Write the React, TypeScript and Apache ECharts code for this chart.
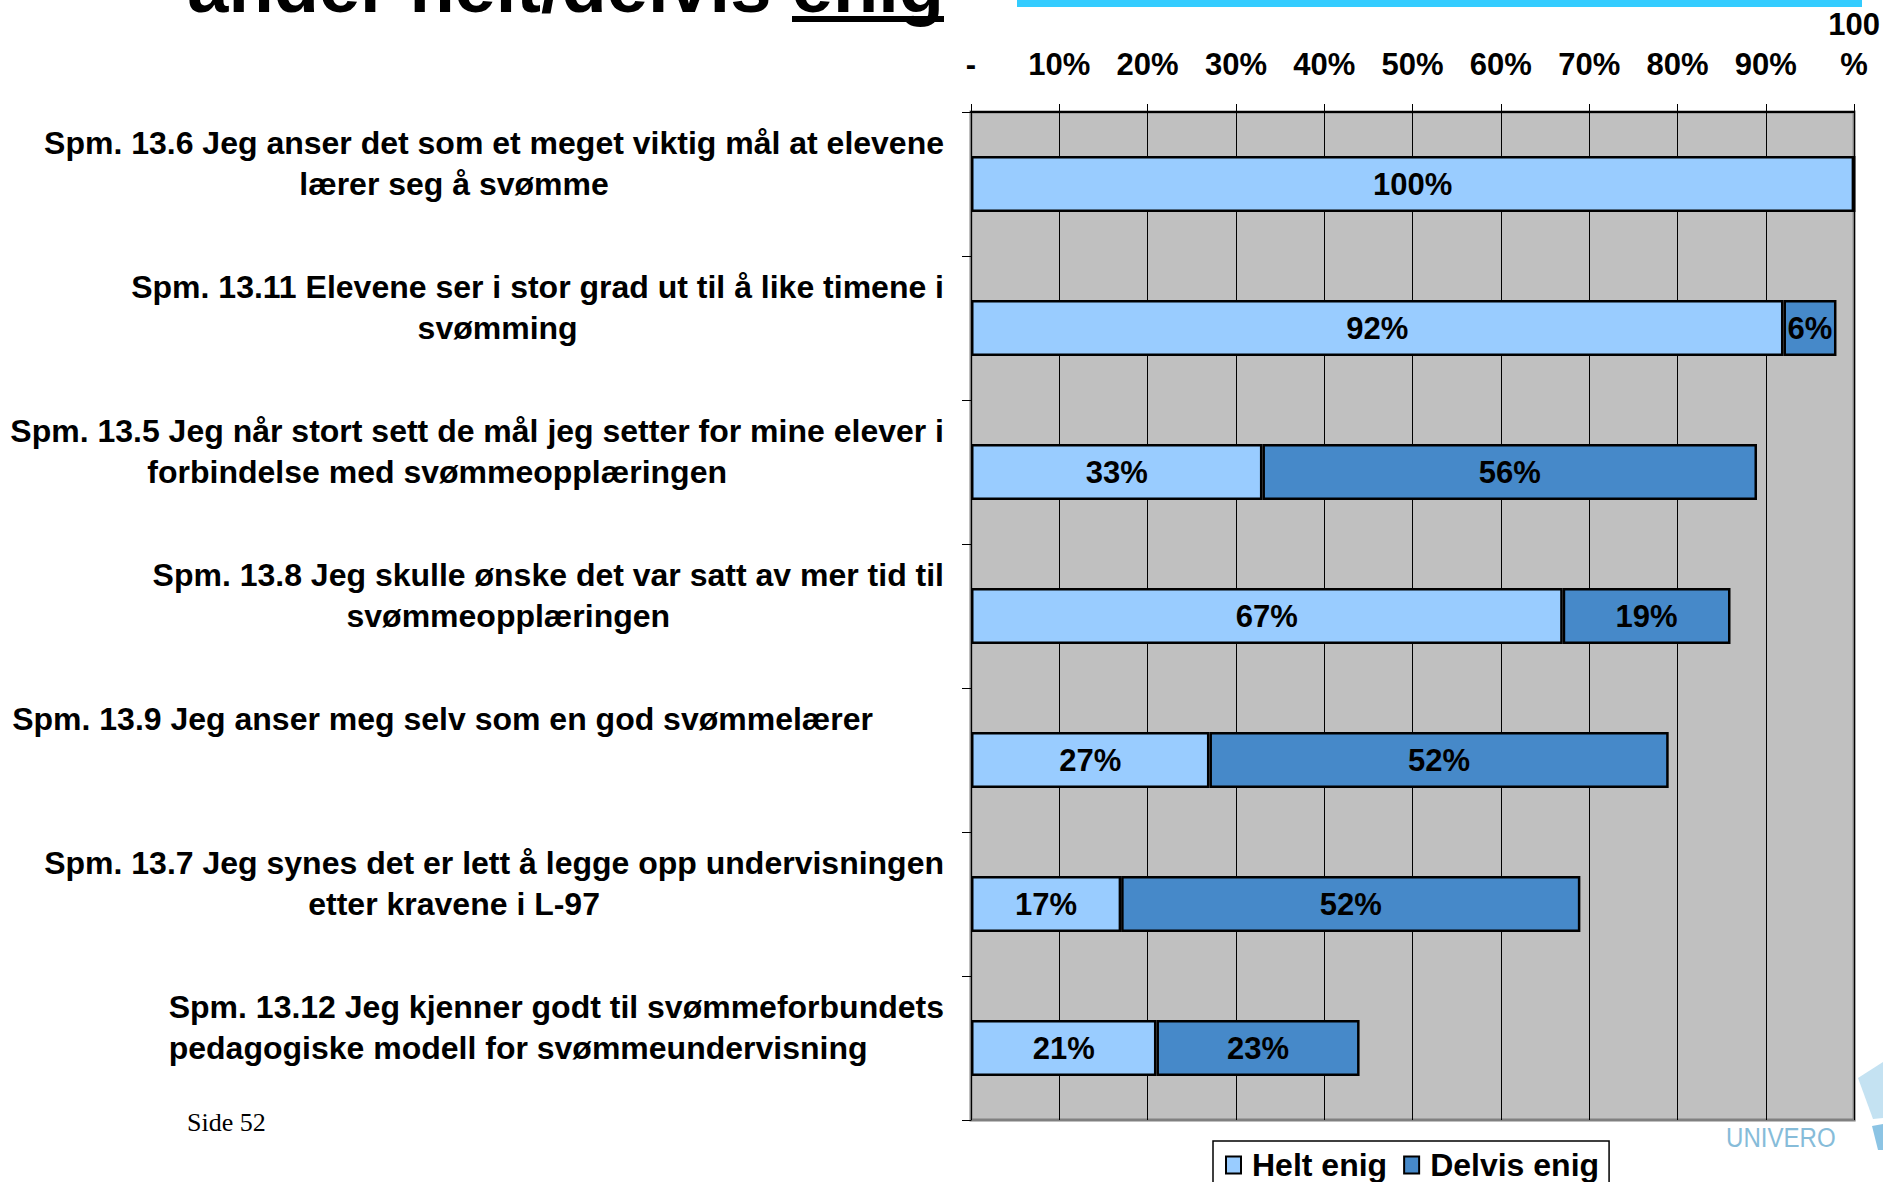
import React, { useEffect, useRef } from "react";
import * as echarts from "echarts";

// ---------- data ----------
const categories = [
  "Spm. 13.6 Jeg anser det som et meget viktig mål at elevene\nlærer seg å svømme",
  "Spm. 13.11 Elevene ser i stor grad ut til å like timene i\nsvømming",
  "Spm. 13.5 Jeg når stort sett de mål jeg setter for mine elever i\nforbindelse med svømmeopplæringen",
  "Spm. 13.8 Jeg skulle ønske det var satt av mer tid til\nsvømmeopplæringen",
  "Spm. 13.9 Jeg anser meg selv som en god svømmelærer",
  "Spm. 13.7 Jeg synes det er lett å legge opp undervisningen\netter kravene i L-97",
  "Spm. 13.12 Jeg kjenner godt til svømmeforbundets\npedagogiske modell for svømmeundervisning",
];
const heltEnig = [100, 92, 33, 67, 27, 17, 21];
const delvisEnig = [0, 6, 56, 19, 52, 52, 23];
const seriesNames = ["Helt enig", "Delvis enig"];
const xTickLabels = ["-", "10%", "20%", "30%", "40%", "50%", "60%", "70%", "80%", "90%", "100\n%"];
const titleText = "ander helt/delvis enig";
const pageLabel = "Side 52";
const logoText = "UNIVERO";

// ---------- styling ----------
const FONT = "'Liberation Sans', Arial, Helvetica, sans-serif";
const labelLayout = ["std", "std", "std", "std", "single", "std", "hang"];

export default function App() {
  const ref = useRef<HTMLDivElement>(null);
  useEffect(() => {
    if (!ref.current) return;
    const chart = echarts.init(ref.current, undefined, { renderer: "svg" });
    const base = {
      fontSize: 32,
      fontWeight: "bold" as const,
      fontFamily: FONT,
      color: "#000",
      lineHeight: 41,
    };
    const barLabel = {
      show: true,
      position: "inside",
      fontSize: 31,
      fontWeight: "bold",
      fontFamily: FONT,
      color: "#000",
      formatter: (p: any) => (p.value ? `${p.value}%` : ""),
    };
    const option: any = {
      animation: false,
      backgroundColor: "#ffffff",
      grid: {
        left: 971,
        top: 112,
        width: 886,
        height: 1008,
        show: true,
        backgroundColor: "#C0C0C0",
        borderColor: "#808080",
        borderWidth: 3,
      },
      legend: {
        data: seriesNames,
        left: 1213,
        top: 1141,
        orient: "horizontal",
        backgroundColor: "#fff",
        borderColor: "#000",
        borderWidth: 1.5,
        borderRadius: 0,
        padding: [8, 10, 8, 12],
        itemGap: 16,
        itemWidth: 15,
        itemHeight: 17,
        icon: "rect",
        textStyle: {
          fontSize: 32,
          fontWeight: "bold",
          fontFamily: FONT,
          color: "#000",
          padding: [0, 0, 0, 6],
        },
      },
      xAxis: {
        type: "value",
        position: "top",
        min: 0,
        max: 100,
        interval: 10,
        axisLine: { show: true, lineStyle: { color: "#000", width: 2 } },
        axisTick: { show: true, inside: false, length: 8, lineStyle: { color: "#000", width: 1 } },
        splitLine: { show: true, lineStyle: { color: "#000", width: 1 } },
        axisLabel: {
          margin: 28,
          fontSize: 31,
          fontWeight: "bold",
          fontFamily: FONT,
          color: "#000",
          lineHeight: 40,
          formatter: (v: number) => xTickLabels[Math.round(v / 10)] ?? "",
        },
      },
      yAxis: {
        type: "category",
        data: categories,
        inverse: true,
        axisLine: { show: true, lineStyle: { color: "#000", width: 1 } },
        axisTick: { show: true, inside: false, length: 9, lineStyle: { color: "#000", width: 1 } },
        splitLine: { show: false },
        axisLabel: {
          interval: 0,
          margin: 27,
          align: "right",
          fontSize: 32,
          fontWeight: "bold",
          fontFamily: FONT,
          color: "#000",
          lineHeight: 41,
          formatter: (value: string, index: number) => {
            const parts = value.split("\n");
            const l1 = parts[0];
            const l2 = parts[1] ?? " ";
            const kind = labelLayout[index] || "std";
            if (kind === "single") return `{o1|${l1}}\n{e| }\n{e| }`;
            if (kind === "hang") return `{s1|${l1}}\n{h2|${l2}}\n{e| }`;
            return `{s1|${l1}}\n{s2|${l2}}\n{e| }`;
          },
          rich: {
            s1: { ...base, align: "right" },
            s2: { ...base, align: "center", padding: [0, 80, 0, 0] },
            o1: { ...base, align: "right", padding: [0, 71, 0, 0] },
            h2: { ...base, align: "left", padding: [0, 0, 0, 0] },
            e: { ...base, align: "right" },
          },
        },
      },
      series: [
        {
          name: seriesNames[0],
          type: "bar",
          stack: "total",
          data: heltEnig,
          barWidth: 56,
          itemStyle: { color: "#99CCFF", borderColor: "#000", borderWidth: 2.5 },
          label: barLabel,
        },
        {
          name: seriesNames[1],
          type: "bar",
          stack: "total",
          data: delvisEnig,
          barWidth: 56,
          itemStyle: { color: "#4689C9", borderColor: "#000", borderWidth: 2.5 },
          label: barLabel,
        },
      ],
      graphic: [
        { type: "rect", shape: { x: 1017, y: 0, width: 845, height: 7 }, style: { fill: "#33CCFF" }, silent: true },
        {
          type: "text",
          x: 944,
          y: -14,
          style: {
            text: titleText,
            fontSize: 74,
            fontWeight: "bold",
            fontFamily: FONT,
            fill: "#000",
            align: "right",
            verticalAlign: "middle",
          },
        },
        { type: "rect", shape: { x: 792, y: 16, width: 152, height: 6 }, style: { fill: "#000" } },
        {
          type: "text",
          x: 187,
          y: 1122,
          style: {
            text: pageLabel,
            fontSize: 26,
            fontFamily: "'Liberation Serif', 'Times New Roman', serif",
            fill: "#000",
            align: "left",
            verticalAlign: "middle",
          },
        },
        {
          type: "text",
          x: 1726,
          y: 1137,
          scaleX: 0.86,
          style: {
            text: logoText,
            fontSize: 28,
            fontFamily: FONT,
            fill: "#86BCD9",
            align: "left",
            verticalAlign: "middle",
          },
        },
        {
          type: "polygon",
          shape: { points: [[1858, 1078], [1883, 1062], [1883, 1118], [1873, 1119]] },
          style: { fill: "#C4E2F2" },
        },
        {
          type: "polygon",
          shape: { points: [[1872, 1126], [1883, 1124], [1883, 1150], [1878, 1150]] },
          style: { fill: "#8CC4E4" },
        },
      ],
    };
    chart.setOption(option);
    return () => chart.dispose();
  }, []);
  return (
    <div
      ref={ref}
      style={{ position: "fixed", left: 0, top: 0, width: 1883, height: 1182, background: "#fff" }}
    />
  );
}
